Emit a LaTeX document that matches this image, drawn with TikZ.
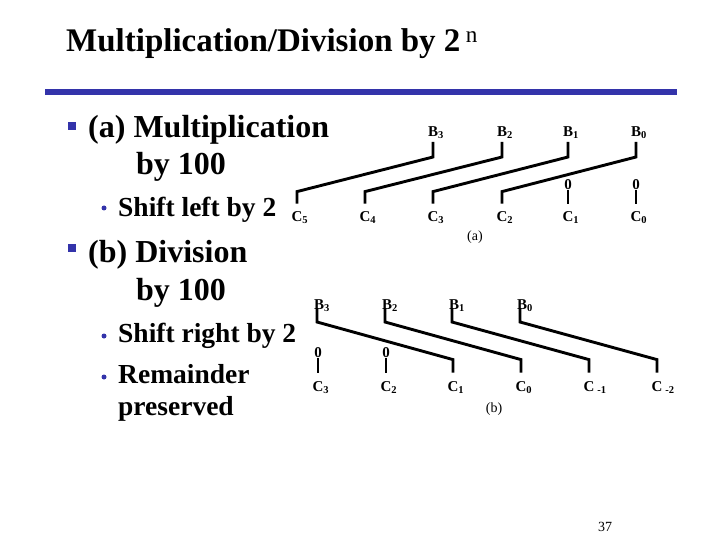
\documentclass[tikz,border=0pt]{standalone}
\usepackage{fontspec}
\setmainfont{Liberation Serif}
\definecolor{slideblue}{RGB}{51,51,170}
\begin{document}
\begin{tikzpicture}[x=1pt,y=-1pt,
  wire/.style={line width=2.9pt},
  bit/.style={font=\bfseries\fontsize{15}{15}\selectfont, inner sep=0pt, text height=10pt, text depth=0pt},
  big/.style={anchor=base west, inner sep=0pt, font=\bfseries\fontsize{32}{32}\selectfont},
  small/.style={anchor=base west, inner sep=0pt, font=\bfseries\fontsize{27.5}{27.5}\selectfont},
  sqbullet/.style={fill=slideblue, inner sep=0pt, minimum size=8pt},
  dotbullet/.style={circle, fill=slideblue, inner sep=0pt, minimum size=5pt},
  tag/.style={font=\fontsize{14}{14}\selectfont, inner sep=0pt}]
\useasboundingbox (0,0) rectangle (720,540);
\node (title)[anchor=base west, inner sep=0pt, font=\bfseries\fontsize{33}{33}\selectfont] at (66,52) {Multiplication/Division by 2\,\textsuperscript{\mdseries n}};
\draw[slideblue, line width=6pt] (45,92) -- (677,92);
\node (sqa)[sqbullet] at (72,126) {};
\node (mul)[big] at (88,138) {(a) Multiplication};
\node (mul2)[big] at (136,175) {by 100};
\node (dota)[dotbullet] at (104,208) {};
\node (left)[small] at (118,216) {Shift left by 2};
\node (sqb)[sqbullet] at (72,248) {};
\node (div)[big] at (88,262) {(b) Division};
\node (div2)[big] at (136,300) {by 100};
\node (dotb)[dotbullet] at (104,336) {};
\node (right)[small] at (118,342) {Shift right by 2};
\node (dotc)[dotbullet] at (104,377) {};
\node (rem)[small] at (118,383) {Remainder};
\node (rem2)[small] at (118,415) {preserved};
\node (a-b3)[bit, anchor=south] at (433,137) {B\rlap{\textsubscript{3}}};
\node (a-b2)[bit, anchor=south] at (502,137) {B\rlap{\textsubscript{2}}};
\node (a-b1)[bit, anchor=south] at (568,137) {B\rlap{\textsubscript{1}}};
\node (a-b0)[bit, anchor=south] at (636,137) {B\rlap{\textsubscript{0}}};
\node (a-z1)[bit, anchor=south] at (568,190) {0};
\node (a-z0)[bit, anchor=south] at (636,190) {0};
\node (a-c5)[bit, anchor=south] at (297,222) {C\rlap{\textsubscript{5}}};
\node (a-c4)[bit, anchor=south] at (365,222) {C\rlap{\textsubscript{4}}};
\node (a-c3)[bit, anchor=south] at (433,222) {C\rlap{\textsubscript{3}}};
\node (a-c2)[bit, anchor=south] at (502,222) {C\rlap{\textsubscript{2}}};
\node (a-c1)[bit, anchor=south] at (568,222) {C\rlap{\textsubscript{1}}};
\node (a-c0)[bit, anchor=south] at (636,222) {C\rlap{\textsubscript{0}}};
\node (a-tag)[tag] at (475,237) {(a)};
\draw[wire] ([yshift=-5pt]a-b3.south) -- ++(0,15) -- ([yshift=20pt]a-c5.north) -- ([yshift=8pt]a-c5.north);
\draw[wire] ([yshift=-5pt]a-b2.south) -- ++(0,15) -- ([yshift=20pt]a-c4.north) -- ([yshift=8pt]a-c4.north);
\draw[wire] ([yshift=-5pt]a-b1.south) -- ++(0,15) -- ([yshift=20pt]a-c3.north) -- ([yshift=8pt]a-c3.north);
\draw[wire] ([yshift=-5pt]a-b0.south) -- ++(0,15) -- ([yshift=20pt]a-c2.north) -- ([yshift=8pt]a-c2.north);
\draw[wire] (a-z1.south) -- ([yshift=8pt]a-c1.north);
\draw[wire] (a-z0.south) -- ([yshift=8pt]a-c0.north);
\node (b-b3)[bit, anchor=south] at (319,310) {B\rlap{\textsubscript{3}}};
\node (b-b2)[bit, anchor=south] at (387,310) {B\rlap{\textsubscript{2}}};
\node (b-b1)[bit, anchor=south] at (454,310) {B\rlap{\textsubscript{1}}};
\node (b-b0)[bit, anchor=south] at (522,310) {B\rlap{\textsubscript{0}}};
\node (b-z3)[bit, anchor=south] at (318,358) {0};
\node (b-z2)[bit, anchor=south] at (386,358) {0};
\node (b-c3)[bit, anchor=south] at (318,392) {C\rlap{\textsubscript{3}}};
\node (b-c2)[bit, anchor=south] at (386,392) {C\rlap{\textsubscript{2}}};
\node (b-c1)[bit, anchor=south] at (453,392) {C\rlap{\textsubscript{1}}};
\node (b-c0)[bit, anchor=south] at (521,392) {C\rlap{\textsubscript{0}}};
\node (b-cm1)[bit, anchor=south] at (589,392) {C\rlap{\hspace{3pt}\textsubscript{-1}}};
\node (b-cm2)[bit, anchor=south] at (657,392) {C\rlap{\hspace{3pt}\textsubscript{-2}}};
\node (b-tag)[tag] at (494,409) {(b)};
\draw[wire] ([xshift=-2pt,yshift=2pt]b-b3.south) -- ++(0,14) -- ([yshift=22pt]b-c1.north) -- ([yshift=9pt]b-c1.north);
\draw[wire] ([xshift=-2pt,yshift=2pt]b-b2.south) -- ++(0,14) -- ([yshift=22pt]b-c0.north) -- ([yshift=9pt]b-c0.north);
\draw[wire] ([xshift=-2pt,yshift=2pt]b-b1.south) -- ++(0,14) -- ([yshift=22pt]b-cm1.north) -- ([yshift=9pt]b-cm1.north);
\draw[wire] ([xshift=-2pt,yshift=2pt]b-b0.south) -- ++(0,14) -- ([yshift=22pt]b-cm2.north) -- ([yshift=9pt]b-cm2.north);
\draw[wire] (b-z3.south) -- ([yshift=9pt]b-c3.north);
\draw[wire] (b-z2.south) -- ([yshift=9pt]b-c2.north);
\node (page)[tag] at (605,527) {37};
\end{tikzpicture}
\end{document}
